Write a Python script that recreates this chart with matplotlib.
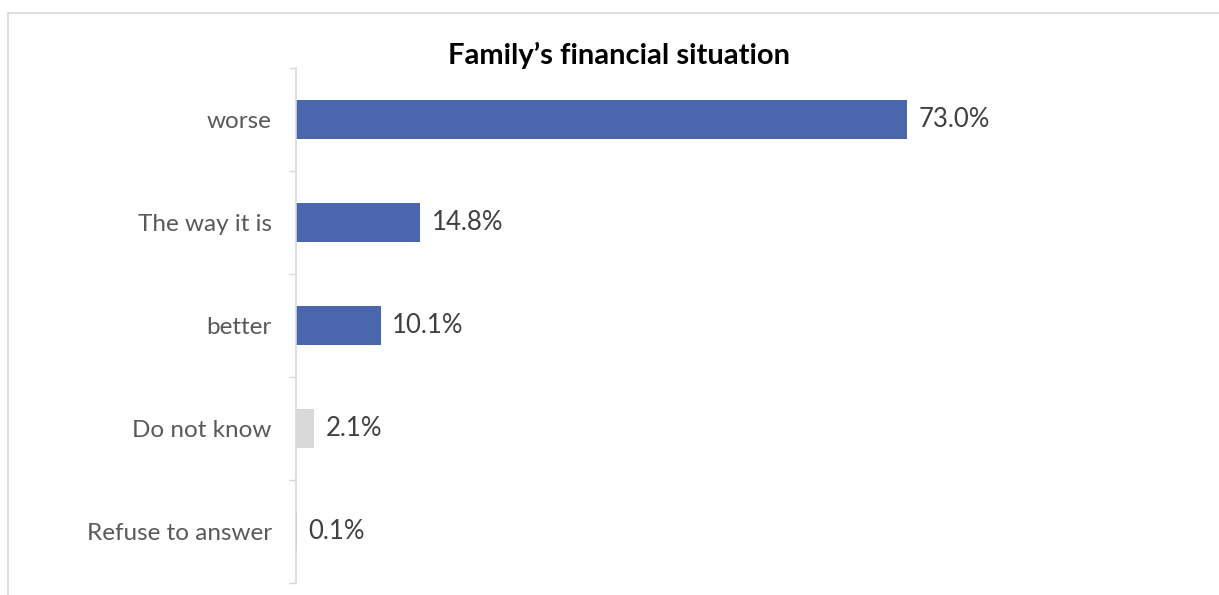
import matplotlib.pyplot as plt
import numpy as np

categories = ['worse', 'The way it is', 'better', 'Do not know', 'Refuse to answer']
values = [73.0, 14.8, 10.1, 2.1, 0.1]
colors = ['#4A66AC', '#4A66AC', '#4A66AC', '#D9D9D9', '#A5A5A5']

plt.rcParams['font.family'] = ['Lato', 'DejaVu Sans']

fig = plt.figure(figsize=(12.19, 5.95), dpi=100)
ax = fig.add_axes([296 / 1219, 1 - 583 / 595, 884 / 1219, 515 / 595])

y = np.arange(len(categories))
ax.barh(y, values, height=0.37, color=colors)
ax.set_ylim(len(categories) - 0.5, -0.5)
ax.set_xlim(0, 884 / 8.37)

for yi, v in zip(y, values):
    ax.annotate(f'{v:.1f}%', (v, yi), xytext=(8.5, 0), textcoords='offset points',
                va='center', ha='left', fontsize=18.5, color='#404040')

ax.set_yticks(y)
ax.set_yticklabels(categories, fontsize=17.5, color='#595959')
ax.tick_params(axis='y', which='major', length=0, pad=17.5)
ax.set_yticks(np.arange(-0.5, len(categories)), minor=True)
ax.tick_params(axis='y', which='minor', length=5, color='#D9D9D9', width=1)
ax.set_xticks([])
for s in ['top', 'right', 'bottom']:
    ax.spines[s].set_visible(False)
ax.spines['left'].set_color('#D9D9D9')
ax.spines['left'].set_linewidth(1.2)

fig.text(619 / 1219, 1 - 55 / 595, 'Family\u2019s financial situation', ha='center', va='center',
         fontsize=21, fontweight='bold', color='black')

# outer chart border
fig.patches.append(plt.Rectangle((8 / 1219, -0.1), 1.2, 1 - 13 / 595 + 0.1, transform=fig.transFigure,
                                 fill=False, edgecolor='#D9D9D9', linewidth=1.2))

fig.savefig('out.png', dpi=100)
